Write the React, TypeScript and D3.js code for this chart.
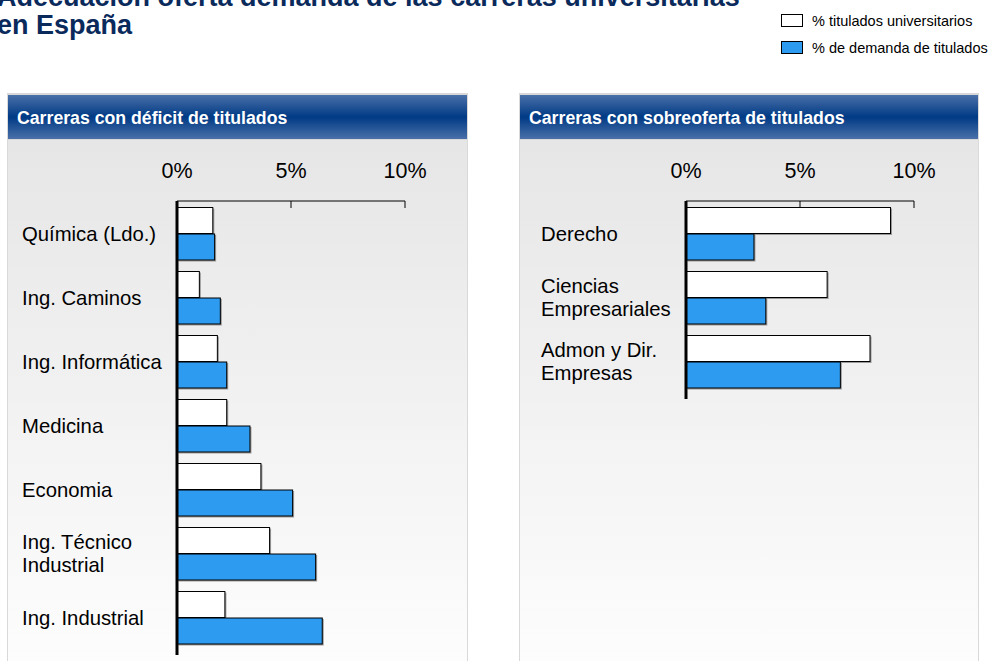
import React from "react";
import * as d3 from "d3";

const leftCategories = [
  ["Química (Ldo.)"],
  ["Ing. Caminos"],
  ["Ing. Informática"],
  ["Medicina"],
  ["Economia"],
  ["Ing. Técnico", "Industrial"],
  ["Ing. Industrial"],
];
const leftTitulados = [1.57, 0.98, 1.77, 2.18, 3.68, 4.06, 2.1];
const leftDemanda = [1.65, 1.9, 2.18, 3.2, 5.07, 6.08, 6.37];

const rightCategories = [
  ["Derecho"],
  ["Ciencias", "Empresariales"],
  ["Admon y Dir.", "Empresas"],
];
const rightTitulados = [8.97, 6.19, 8.07];
const rightDemanda = [2.98, 3.5, 6.77];

const tickValues = [0, 5, 10];
const tickLabels = ["0%", "5%", "10%"];
const seriesKeys = ["titulados", "demanda"];
const seriesNames = ["% titulados universitarios", "% de demanda de titulados"];
const seriesColors = ["#ffffff", "#2d9bf0"];

const titleLines = [
  "Adecuación oferta demanda de las carreras universitarias",
  "en España",
];
const panelTitles = ["Carreras con déficit de titulados", "Carreras con sobreoferta de titulados"];

const FONT = "'Liberation Sans', Arial, Helvetica, sans-serif";

type PanelProps = {
  px: number;
  pw: number;
  title: string;
  cats: string[][];
  tit: number[];
  dem: number[];
  x0: number;
  labelX: number;
  id: string;
};

function Panel({ px, pw, title, cats, tit, dem, x0, labelX, id }: PanelProps) {
  const step = 64;
  const pi = 11 / 64;
  const po = 6 / 64;
  const top = 201;
  const bottom = top + step * (cats.length - pi + 2 * po);
  const x = d3.scaleLinear().domain([0, 10]).range([x0, x0 + 228]);
  const y = d3
    .scaleBand<number>()
    .domain(d3.range(cats.length))
    .range([top, bottom])
    .paddingInner(pi)
    .paddingOuter(po);
  const ys = d3.scaleBand<string>().domain(seriesKeys).range([0, y.bandwidth()]);
  const values = [tit, dem];
  const headerTop = 95;
  const headerBot = 139;
  return (
    <g>
      <rect x={px - 1} y={headerTop - 2} width={pw + 2} height={661 - headerTop + 4} fill="#d9d9d9" />
      <rect x={px} y={headerBot + 1} width={pw} height={661 - headerBot} fill={`url(#body-${id})`} />
      <rect x={px} y={headerTop} width={pw} height={headerBot - headerTop} fill="url(#hdr)" />
      <text x={px + 9} y={124} fill="#ffffff" fontFamily={FONT} fontWeight="bold" fontSize={17.7}>
        {title}
      </text>
      {tickValues.map((t, i) => (
        <text key={t} x={x(t)} y={178} textAnchor="middle" fontFamily={FONT} fontSize={21.5} fill="#000">
          {tickLabels[i]}
        </text>
      ))}
      <line x1={x(0)} x2={x(10)} y1={top} y2={top} stroke="#000" strokeWidth={1} />
      {tickValues.slice(1).map((t) => (
        <line key={t} x1={x(t)} x2={x(t)} y1={top} y2={top + 7} stroke="#000" strokeWidth={1} />
      ))}
      {cats.map((c, i) => (
        <g key={i}>
          {seriesKeys.map((k, s) => {
            const by = (y(i) as number) + (ys(k) as number);
            const bw = x(values[s][i]) - x(0);
            const bh = ys.bandwidth();
            return (
              <g key={k}>
                <rect x={x(0) + 1.5} y={by + 1.5} width={bw} height={bh} fill="#9a9a9a" />
                <rect
                  x={x(0)}
                  y={by + 0.5}
                  width={bw}
                  height={bh - 0.5}
                  fill={seriesColors[s]}
                  stroke="#000"
                  strokeWidth={1}
                />
              </g>
            );
          })}
          {c.map((line, li) => (
            <text
              key={li}
              x={labelX}
              y={(y(i) as number) + y.bandwidth() / 2 + 7 + (li - (c.length - 1) / 2) * 23}
              fontFamily={FONT}
              fontSize={20.3}
              fill="#000"
            >
              {line}
            </text>
          ))}
        </g>
      ))}
      <line x1={x(0)} x2={x(0)} y1={top} y2={bottom + 5} stroke="#000" strokeWidth={3} />
    </g>
  );
}

export default function App() {
  return (
    <svg
      width={989}
      height={661}
      style={{ position: "absolute", left: 0, top: 0, background: "#fff" }}
    >
      <defs>
        <linearGradient id="hdr" x1="0" y1="0" x2="0" y2="1">
          <stop offset="0" stopColor="#4a70a8" />
          <stop offset="0.5" stopColor="#003a85" />
          <stop offset="1" stopColor="#4a70a8" />
        </linearGradient>
        <linearGradient id="body-l" x1="0" y1="0" x2="0" y2="1">
          <stop offset="0" stopColor="#e6e6e6" />
          <stop offset="1" stopColor="#fdfdfd" />
        </linearGradient>
        <linearGradient id="body-r" x1="0" y1="0" x2="0" y2="1">
          <stop offset="0" stopColor="#e6e6e6" />
          <stop offset="1" stopColor="#fdfdfd" />
        </linearGradient>
      </defs>
      <rect x={0} y={0} width={989} height={661} fill="#fff" />
      {titleLines.map((t, i) => (
        <text key={i} x={-3} y={6 + i * 28} fontFamily={FONT} fontWeight="bold" fontSize={27} fill="#0b2a5c">
          {t}
        </text>
      ))}
      {seriesNames.map((n, i) => (
        <g key={n}>
          <rect x={781.5} y={14.5 + i * 27} width={21} height={12} fill={seriesColors[i]} stroke="#000" strokeWidth={1} />
          <text x={812} y={25.5 + i * 27} fontFamily={FONT} fontSize={14.5} fill="#000">
            {n}
          </text>
        </g>
      ))}
      <Panel
        px={8}
        pw={459}
        title={panelTitles[0]}
        cats={leftCategories}
        tit={leftTitulados}
        dem={leftDemanda}
        x0={177}
        labelX={22}
        id="l"
      />
      <Panel
        px={520}
        pw={458}
        title={panelTitles[1]}
        cats={rightCategories}
        tit={rightTitulados}
        dem={rightDemanda}
        x0={686}
        labelX={541}
        id="r"
      />
    </svg>
  );
}
